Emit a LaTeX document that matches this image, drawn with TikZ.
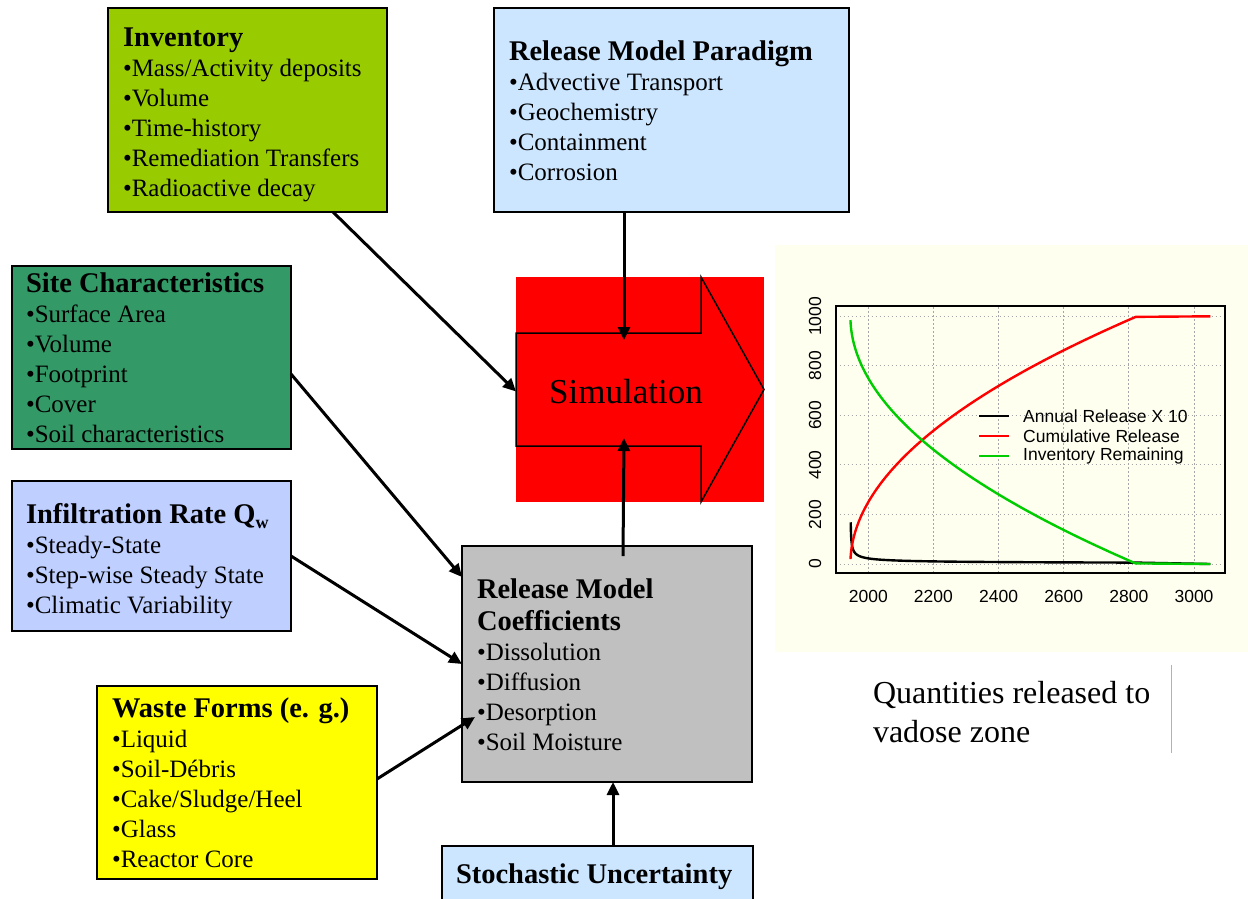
\documentclass[tikz,border=0pt]{standalone}
\usepackage{fontspec}
\setmainfont{Liberation Serif}
\newfontfamily\chartfont{Liberation Sans}
\usetikzlibrary{arrows.meta,calc}
\definecolor{invgreen}{HTML}{99CC00}
\definecolor{sitegreen}{HTML}{339966}
\definecolor{paleblue}{HTML}{CCE6FF}
\definecolor{lavblue}{HTML}{BFCFFF}
\definecolor{wasteyellow}{HTML}{FFFF00}
\definecolor{coefgray}{HTML}{C0C0C0}
\definecolor{simred}{HTML}{FF0000}
\definecolor{chartbg}{HTML}{FFFFF0}
\definecolor{curvegreen}{HTML}{00CD00}
\newcommand{\boxtitle}{\fontsize{28.5}{30}\selectfont\bfseries}
\newcommand{\boxbody}{\fontsize{25}{30}\selectfont\mdseries}
\tikzset{
  box/.style={draw=black, line width=1.5pt, anchor=north west, inner sep=0pt, outer sep=0pt},
  txt/.style={anchor=base west, inner sep=0pt, outer sep=0pt},
  conn/.style={line width=3pt, -{Triangle[length=13pt,width=12pt]}},
  gridline/.style={gray!70, line width=0.9pt, dash pattern=on 1.5pt off 2.5pt},
  curve/.style={line width=2.4pt},
  ticklab/.style={font=\chartfont\fontsize{17.5}{17.5}\selectfont, inner sep=0pt},
  legtext/.style={font=\chartfont\fontsize{17.5}{17.5}\selectfont, anchor=west, inner sep=0pt}
}
\begin{document}
\begin{tikzpicture}[x=1pt,y=-1pt]
\useasboundingbox (0,0) rectangle (1248,898);
\fill[white] (0,0) rectangle (1248,898);

% ---- boxes ----
\node[box, fill=invgreen, minimum width=279pt, minimum height=204pt] (inv) at (108,8) {};
\node[box, fill=paleblue, minimum width=355pt, minimum height=204pt] (par) at (494,8) {};
\node[box, fill=sitegreen, minimum width=279pt, minimum height=183pt] (site) at (12,266) {};
\node[box, fill=lavblue, minimum width=279pt, minimum height=150pt] (infil) at (12,481) {};
\node[box, fill=wasteyellow, minimum width=280pt, minimum height=193pt] (waste) at (97,686) {};
\node[box, fill=coefgray, minimum width=290pt, minimum height=236pt] (coef) at (462,546) {};
\node[box, fill=paleblue, minimum width=311pt, minimum height=60pt] (stoch) at (442,846) {};

% ---- box texts ----
\node[txt] (invt) at (123,46) {\parbox[t]{330pt}{\raggedright\boxtitle Inventory\par\boxbody
  •Mass/Activity deposits\par •Volume\par •Time-history\par •Remediation Transfers\par •Radioactive decay}};
\node[txt] (part) at (509,60) {\parbox[t]{340pt}{\raggedright\boxtitle Release Model Paradigm\par\boxbody
  •Advective Transport\par •Geochemistry\par •Containment\par •Corrosion}};
\node[txt] (sitet) at (26,292) {\parbox[t]{330pt}{\raggedright\boxtitle Site Characteristics\par\boxbody
  •Surface Area\par •Volume\par •Footprint\par •Cover\par •Soil characteristics}};
\node[txt] (infilt) at (26,523) {\parbox[t]{330pt}{\raggedright\boxtitle Infiltration Rate Q\raisebox{-5pt}{\fontsize{18}{18}\selectfont w}\par\boxbody
  •Steady-State\par •Step-wise Steady State\par •Climatic Variability}};
\node[txt] (wastet) at (112,717) {\parbox[t]{330pt}{\raggedright\boxtitle Waste Forms (e. g.)\par\boxbody
  •Liquid\par •Soil-Débris\par •Cake/Sludge/Heel\par •Glass\par •Reactor Core}};
\node[txt] (coeft) at (477,598) {\parbox[t]{330pt}{\raggedright\fontsize{28.5}{32}\selectfont\bfseries Release Model\par Coefficients\par\boxbody
  •Dissolution\par •Diffusion\par •Desorption\par •Soil Moisture}};
\node[txt] (stocht) at (456,883) {\boxtitle Stochastic Uncertainty};

% ---- simulation arrow ----
\fill[simred] (516,277) rectangle (764,502);
\draw[fill=simred, line width=1.5pt, line join=miter]
  (516,333) -- (701,333) -- (701,277) -- (764,389.5) -- (701,502) -- (701,446) -- (516,446) -- cycle;
\node[minimum width=185pt, minimum height=113pt, inner sep=0pt, outer sep=0pt] (sim) at (608.5,389.5) {};
\node[inner sep=0pt] (simlabel) at (626,392) {\fontsize{35}{35}\selectfont Simulation};

% ---- connectors ----
\draw[conn] ($(inv.south east)+(-54,0)$) -- ($(sim.west)+(0,2)$);
\draw[conn] ($(par.south)+(-47.5,0)$) -- ($(sim.north)+(15.5,7)$);
\draw[conn] ($(coef.north)+(16,10)$) -- ($(sim.south)+(15.5,-8)$);
\draw[conn] ($(site.east)+(0,16.5)$) -- ($(coef.north west)+(0,31)$);
\draw[conn] (infil.east) -- (coef.west);
\draw[conn] ($(waste.east)+(0,-3.5)$) -- ($(coef.west)+(13,53)$);
\draw[conn] ($(stoch.north)+(15.5,0)$) -- ($(coef.south)+(6,0)$);

% ---- chart ----
\fill[chartbg] (775,245) rectangle (1248,652);
\begin{scope}[shift={(868.3,564)}, xscale=0.3257, yscale=-0.2477]
  \foreach \t in {0,200,...,1000} \draw[gridline] (\t,-36) -- (\t,1043);
  \foreach \v in {0,200,...,1000} \draw[gridline] (-100,\v) -- (1095,\v);
  \draw[curve, black] plot[domain=1:29.665, samples=220, variable=\w] ({\w*\w-55},{5000/(29.665*\w)}) -- (1050,0);
  \draw[curve, simred] plot[domain=0.02:1, samples=160, variable=\u] ({880*\u*\u-55},{1000*\u}) -- (1050,1000);
  \draw[curve, curvegreen] plot[domain=0.015:1, samples=160, variable=\u] ({880*\u*\u-55},{1000-1000*\u}) -- (1050,0);
  \draw[line width=2.2pt] (-100,-36) rectangle (1095,1043);
  \foreach \t/\lab in {0/2000,200/2200,400/2400,600/2600,800/2800,1000/3000}
    \node[ticklab] at (\t,-133) {\lab};
  \foreach \v in {0,200,400,600,800,1000}
    \node[ticklab, rotate=90] at (-163,\v) {\v};
\end{scope}
\coordinate (leg1a) at (979,416); \coordinate (leg1b) at (1009,416);
\coordinate (leg2a) at (979,436); \coordinate (leg2b) at (1009,436);
\coordinate (leg3a) at (979,456); \coordinate (leg3b) at (1009,456);
\draw[line width=1.6pt, black] (leg1a) -- (leg1b);
\draw[line width=1.6pt, simred] (leg2a) -- (leg2b);
\draw[line width=1.6pt, curvegreen] (leg3a) -- (leg3b);
\node[legtext] (leg1) at (1023,416) {Annual Release X 10};
\node[legtext] (leg2) at (1023,436) {Cumulative Release};
\node[legtext] (leg3) at (1023,456) {Inventory Remaining};

% ---- caption ----
\node[txt] (caption) at (873,703) {\parbox[t]{290pt}{\raggedright\fontsize{32}{39}\selectfont Quantities released to\par vadose zone}};
\draw[gray!60, line width=0.8pt] (1171,665) -- (1171,753);
\end{tikzpicture}
\end{document}
